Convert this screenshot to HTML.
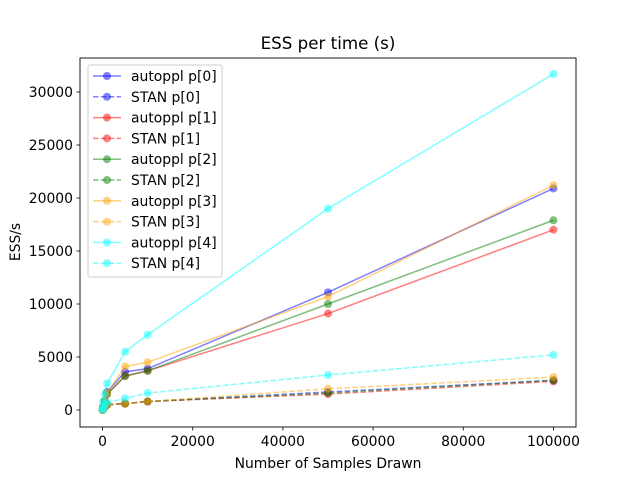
<!DOCTYPE html>
<html><head><meta charset="utf-8"><style>
body{margin:0;background:#fff}
svg{font-family:"DejaVu Sans","Liberation Sans",sans-serif}
</style></head><body>
<svg id="chart" width="640" height="480" viewBox="0 0 640 480">
<rect width="640" height="480" fill="#fff"/>
<text x="328" y="49" font-size="16.7" text-anchor="middle">ESS per time (s)</text>
<g id="plot"></g>
<rect x="80" y="58" width="496" height="369" fill="none" stroke="#000" stroke-width="0.9"/>
<g id="axes"></g>
<text x="328" y="468" font-size="13.9" text-anchor="middle">Number of Samples Drawn</text>
<text transform="translate(20,242) rotate(-90)" font-size="13.9" text-anchor="middle">ESS/s</text>
<g id="legend"></g>
</svg>
<script>
const samples=[10,100,500,1000,5000,10000,50000,100000];
const autoP0=[50,300,900,1700,3600,3900,11100,20900];
const autoP1=[40,250,800,1500,3200,3700,9100,17000];
const autoP2=[40,250,800,1500,3200,3700,10000,17900];
const autoP3=[50,300,900,1600,4100,4500,10700,21200];
const autoP4=[80,800,1500,2500,5500,7100,19000,31700];
const stanP0=[10,100,300,500,600,800,1700,2800];
const stanP1=[10,100,300,500,600,800,1500,2700];
const stanP2=[10,100,300,500,600,800,1600,2800];
const stanP3=[10,100,300,500,600,800,2000,3100];
const stanP4=[20,200,500,700,1100,1600,3300,5200];
const xTicks=[0,20000,40000,60000,80000,100000];
const yTicks=[0,5000,10000,15000,20000,25000,30000];
const seriesNames=['autoppl p[0]','STAN p[0]','autoppl p[1]','STAN p[1]','autoppl p[2]','STAN p[2]','autoppl p[3]','STAN p[3]','autoppl p[4]','STAN p[4]'];
const seriesData=[autoP0,stanP0,autoP1,stanP1,autoP2,stanP2,autoP3,stanP3,autoP4,stanP4];
const colors=['blue','blue','red','red','green','green','orange','orange','cyan','cyan'];
const NS='http://www.w3.org/2000/svg';
const xMin=-5000,xMax=105000,yMin=-1604,yMax=33208;
const X=v=>80+(v-xMin)/(xMax-xMin)*496;
const Y=v=>427-(v-yMin)/(yMax-yMin)*369;
function mk(t,a,p){const e=document.createElementNS(NS,t);for(const k in a)e.setAttribute(k,a[k]);p.appendChild(e);return e;}
const plot=document.getElementById('plot'),axes=document.getElementById('axes'),leg=document.getElementById('legend');
seriesData.forEach((d,i)=>{
  const g=mk('g',{},plot);
  
  
  const pl=mk('polyline',{points:d.map((v,j)=>X(samples[j])+','+Y(v)).join(' '),fill:'none',stroke:colors[i],'stroke-opacity':0.5,'stroke-width':1.5},g);
  if(i%2)pl.setAttribute('stroke-dasharray','5.5,2.4');
  d.forEach((v,j)=>{const c=mk('circle',{cx:X(samples[j]),cy:Y(v),r:4,fill:colors[i],'fill-opacity':0.5},g);
    
    });
});
xTicks.forEach(t=>{const x=X(t);mk('line',{x1:x,x2:x,y1:427,y2:430.5,stroke:'#000','stroke-width':0.8},axes);
  const tx=mk('text',{x:x,y:446,'font-size':13.9,'text-anchor':'middle'},axes);tx.textContent=t;
  
  });
yTicks.forEach(t=>{const y=Y(t);mk('line',{x1:76.5,x2:80,y1:y,y2:y,stroke:'#000','stroke-width':0.8},axes);
  const tx=mk('text',{x:73,y:y+5,'font-size':13.9,'text-anchor':'end'},axes);tx.textContent=t;
  
  });
const lb=mk('rect',{x:88,y:65,width:134,height:212,rx:2,fill:'#fff','fill-opacity':0.8,stroke:'#ccc'},leg);


seriesNames.forEach((n,i)=>{const y=76+i*20.8;const g=mk('g',{},leg);
  
  
  const l=mk('line',{x1:93,x2:121,y1:y,y2:y,stroke:colors[i],'stroke-opacity':0.5,'stroke-width':1.5},g);
  if(i%2)l.setAttribute('stroke-dasharray','5.5,2.4');
  mk('circle',{cx:107,cy:y,r:4,fill:colors[i],'fill-opacity':0.5},g);
  const t=mk('text',{x:131,y:y+5,'font-size':13.9},g);t.textContent=n;});
</script>
</body></html>
